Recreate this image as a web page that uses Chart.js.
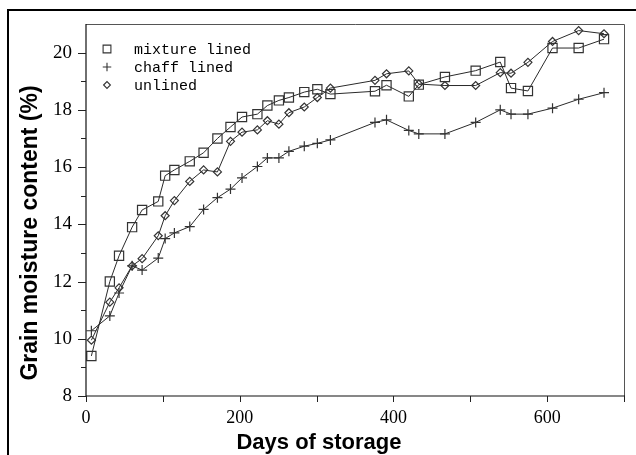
<!DOCTYPE html>
<html><head><meta charset="utf-8">
<script src="https://cdn.jsdelivr.net/npm/chart.js@4"></script>
<style>html,body{margin:0;padding:0;background:#fff}canvas{display:block}</style>
</head><body>
<canvas id="c" width="636" height="455"></canvas>
<script>
// ---- data ----
const days = [7, 31, 43, 60, 73, 94, 103, 115, 135, 153, 171, 188, 203, 223, 236, 251, 264, 284, 301, 318, 376, 391, 420, 433, 467, 507, 539, 553, 575, 607, 641, 674];
const mixtureLined = [9.4, 12.0, 12.9, 13.9, 14.5, 14.8, 15.7, 15.9, 16.2, 16.5, 17.0, 17.4, 17.75, 17.85, 18.15, 18.33, 18.43, 18.62, 18.72, 18.55, 18.65, 18.86, 18.47, 18.88, 19.15, 19.37, 19.67, 18.76, 18.66, 20.16, 20.16, 20.47];
const chaffLined = [10.28, 10.8, 11.6, 12.55, 12.4, 12.82, 13.5, 13.7, 13.92, 14.52, 14.93, 15.23, 15.62, 16.02, 16.32, 16.32, 16.55, 16.73, 16.83, 16.95, 17.56, 17.65, 17.28, 17.16, 17.16, 17.56, 18.0, 17.85, 17.85, 18.06, 18.37, 18.6];
const unlined = [9.95, 11.28, 11.78, 12.55, 12.8, 13.6, 14.3, 14.83, 15.5, 15.9, 15.83, 16.9, 17.22, 17.3, 17.62, 17.5, 17.9, 18.1, 18.43, 18.76, 19.03, 19.26, 19.36, 18.9, 18.85, 18.85, 19.3, 19.28, 19.66, 20.39, 20.77, 20.66];
const seriesNames = ['mixture lined', 'chaff lined', 'unlined'];
const xTicks = [0, 200, 400, 600];
const xMinorTicks = [100, 300, 500, 700];
const yTicks = [8, 10, 12, 14, 16, 18, 20];
const yMinorTicks = [9, 11, 13, 15, 17, 19];
const xTitle = 'Days of storage';
const yTitle = 'Grain moisture content (%)';

const toPts = arr => days.map((d, i) => ({x: d, y: arr[i]}));
const lineCol = '#2a2a2a';
const ptCol = '#333';

function ds(label, arr, style, r) {
  return {
    label, data: toPts(arr), borderColor: lineCol, borderWidth: 1,
    pointStyle: style, pointRadius: r, pointHoverRadius: r,
    pointBorderColor: ptCol, pointBackgroundColor: 'rgba(0,0,0,0)', pointBorderWidth: 1.2,
    tension: 0, fill: false
  };
}

const deco = {
  id: 'deco',
  afterDraw(chart) {
    const ctx = chart.ctx, a = chart.chartArea;
    const xs = chart.scales.x, ys = chart.scales.y;
    ctx.save();
    // outer frame
    ctx.strokeStyle = '#000'; ctx.lineWidth = 2;
    ctx.beginPath(); ctx.moveTo(8, 455); ctx.lineTo(8, 10); ctx.lineTo(636, 10); ctx.stroke();
    // plot box
    ctx.lineWidth = 1; ctx.strokeStyle = '#555';
    ctx.beginPath(); ctx.moveTo(a.left, a.top + 0.5); ctx.lineTo(a.right + 0.5, a.top + 0.5); ctx.lineTo(a.right + 0.5, a.bottom); ctx.stroke();
    ctx.strokeStyle = '#111'; ctx.lineWidth = 1.2;
    ctx.beginPath(); ctx.moveTo(a.left, a.top); ctx.lineTo(a.left, a.bottom); ctx.lineTo(a.right + 1, a.bottom); ctx.stroke();
    // ticks
    ctx.lineWidth = 1; ctx.strokeStyle = '#222';
    ctx.beginPath();
    yTicks.forEach(v => { const y = Math.round(ys.getPixelForValue(v)) + 0.5; ctx.moveTo(a.left - 8, y); ctx.lineTo(a.left, y); });
    yMinorTicks.forEach(v => { const y = Math.round(ys.getPixelForValue(v)) + 0.5; ctx.moveTo(a.left - 5, y); ctx.lineTo(a.left, y); });
    xTicks.concat(xMinorTicks).forEach(v => { const x = Math.round(xs.getPixelForValue(v)) + 0.5; ctx.moveTo(x, a.bottom); ctx.lineTo(x, a.bottom + 6); });
    ctx.stroke();
    // axis titles
    ctx.fillStyle = '#000';
    ctx.textAlign = 'center'; ctx.textBaseline = 'alphabetic';
    ctx.font = 'bold 22px "Liberation Sans", Arial, sans-serif';
    ctx.fillText(xTitle, 319, 449);
    ctx.font = 'bold 23px "Liberation Sans", Arial, sans-serif';
    ctx.save(); ctx.translate(37, 233); ctx.rotate(-Math.PI / 2); ctx.fillText(yTitle, 0, 0); ctx.restore();
    // legend
    ctx.font = '15px "Liberation Mono", "Courier New", monospace';
    ctx.textAlign = 'left'; ctx.textBaseline = 'middle';
    const rows = [49, 67, 85];
    chart.data.datasets.forEach((d, i) => {
      ctx.strokeStyle = ptCol; ctx.fillStyle = 'rgba(0,0,0,0)'; ctx.lineWidth = 1.1;
      Chart.helpers.drawPoint(ctx, {pointStyle: d.pointStyle, radius: d.pointRadius * 0.85, rotation: 0, borderWidth: 1.1}, 107, rows[i]);
      ctx.fillStyle = '#000';
      ctx.fillText(d.label, 134, rows[i] + 1);
    });
    ctx.restore();
  }
};

new Chart(document.getElementById('c'), {
  type: 'line',
  data: {
    datasets: [
      ds(seriesNames[0], mixtureLined, 'rect', 6.5),
      ds(seriesNames[1], chaffLined, 'cross', 5),
      ds(seriesNames[2], unlined, 'rectRot', 4)
    ]
  },
  options: {
    responsive: false, animation: false, devicePixelRatio: 1,
    layout: {padding: {left: 0, top: 24, right: 12, bottom: 0}},
    plugins: {legend: {display: false}, tooltip: {enabled: false}},
    scales: {
      x: {
        type: 'linear', min: 0, max: 700,
        afterBuildTicks: s => { s.ticks = xTicks.map(v => ({value: v})); },
        afterFit: s => { s.height = 59; },
        grid: {display: true, drawOnChartArea: false, drawTicks: true, tickLength: 7, tickColor: 'rgba(0,0,0,0)'},
        border: {display: false},
        ticks: {color: '#000', padding: 4, maxRotation: 0, font: {family: '"Liberation Serif", "Times New Roman", serif', size: 18}}
      },
      y: {
        type: 'linear', min: 8, max: 21,
        afterBuildTicks: s => { s.ticks = yTicks.map(v => ({value: v})); },
        afterFit: s => { s.width = 86; },
        grid: {display: true, drawOnChartArea: false, drawTicks: true, tickLength: 9, tickColor: 'rgba(0,0,0,0)'},
        border: {display: false},
        ticks: {color: '#000', padding: 5, font: {family: '"Liberation Serif", "Times New Roman", serif', size: 19}}
      }
    }
  },
  plugins: [deco]
});
</script>
</body></html>
